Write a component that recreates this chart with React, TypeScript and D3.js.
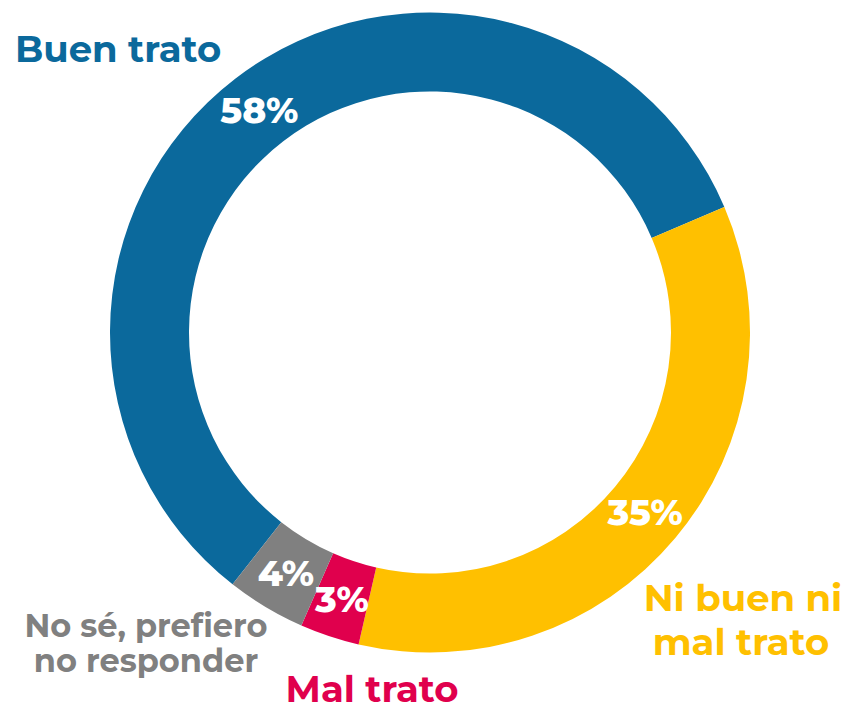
import React from "react";
import * as d3 from "d3";

const categories = ["Buen trato", "Ni buen ni mal trato", "Mal trato", "No sé, prefiero no responder"];
const values = [58, 35, 3, 4];
const colors = ["#0b699c", "#ffc000", "#e0004d", "#808080"];
const pctLabels = ["58%", "35%", "3%", "4%"];

const W = 851;
const H = 708;
const cx = 430;
const cy = 332.5;
const outerR = 320;
const innerR = 241;
const startDeg = 218.1;
const FONT = "Montserrat, 'Open Sans', 'DejaVu Sans', sans-serif";

export default function App() {
  const pie = d3
    .pie<number>()
    .sort(null)
    .value((d) => d)
    .startAngle((startDeg * Math.PI) / 180)
    .endAngle(((startDeg + 360) * Math.PI) / 180);
  const arcs = pie(values);
  const arc = d3.arc<d3.PieArcDatum<number>>().innerRadius(innerR).outerRadius(outerR);

  return (
    <svg width={W} height={H} style={{ position: "absolute", left: 0, top: 0, background: "#fff" }}>
      <g transform={`translate(${cx},${cy})`}>
        {arcs.map((a, i) => (
          <path key={i} d={arc(a) || ""} fill={colors[i]} />
        ))}
        {arcs.map((a, i) => {
          const [x, y] = arc.centroid(a);
          return (
            <text
              key={"p" + i}
              x={x}
              y={y}
              dy="0.36em"
              textAnchor="middle"
              fill="#fff"
              fontFamily={FONT}
              fontWeight={800}
              fontSize={36}
            >
              {pctLabels[i]}
            </text>
          );
        })}
      </g>
      <text x={15} y={62} fill={colors[0]} fontFamily={FONT} fontWeight={700} fontSize={37}>
        {categories[0]}
      </text>
      <text textAnchor="middle" fill={colors[1]} fontFamily={FONT} fontWeight={700} fontSize={37}>
        <tspan x={743} y={611}>Ni buen ni</tspan>
        <tspan x={741} y={655}>mal trato</tspan>
      </text>
      <text x={372} y={702} textAnchor="middle" fill={colors[2]} fontFamily={FONT} fontWeight={700} fontSize={37}>
        {categories[2]}
      </text>
      <text textAnchor="middle" fill={colors[3]} fontFamily={FONT} fontWeight={700} fontSize={32}>
        <tspan x={146} y={637}>No sé, prefiero</tspan>
        <tspan x={146} y={672}>no responder</tspan>
      </text>
    </svg>
  );
}
